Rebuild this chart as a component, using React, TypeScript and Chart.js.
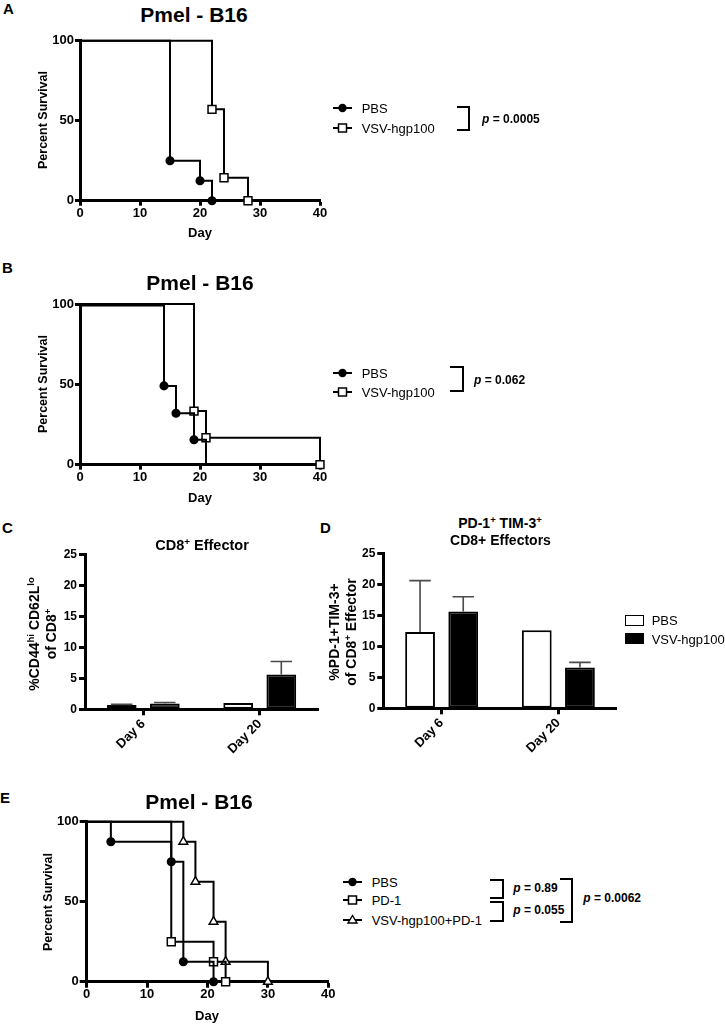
import React, { useEffect, useRef } from 'react';
import { Chart, registerables } from 'chart.js';

Chart.register(...registerables);

// ---------------- DATA ----------------
// Panel A – Kaplan–Meier (day, percent survival)
const A_PBS_DAYS = [0, 15, 20, 22];
const A_PBS_SURV = [100, 25, 12.5, 0];
const A_VSV_DAYS = [0, 22, 24, 28];
const A_VSV_SURV = [100, 57.1, 14.3, 0];

// Panel B
const B_PBS_DAYS = [0, 14, 16, 19, 21];
const B_PBS_SURV = [99, 49, 32, 15.5, 0];
const B_VSV_DAYS = [0, 19, 21, 40];
const B_VSV_SURV = [100, 33.3, 16.7, 0];

// Panel E
const E_PBS_DAYS = [0, 4, 14, 16, 21];
const E_PBS_SURV = [100, 87.5, 75, 12.5, 0];
const E_PD1_DAYS = [0, 14, 21, 23];
const E_PD1_SURV = [100, 25, 12.5, 0];
const E_COMBO_DAYS = [0, 16, 18, 21, 23, 30];
const E_COMBO_SURV = [100, 87.5, 62.5, 37.5, 12.5, 0];

// Bar panels C and D
const BAR_CATEGORIES = ['Day 6', 'Day 20'];
const C_PBS = [0.7, 1.0];
const C_PBS_ERR = [0.1, 0];
const C_VSV = [0.95, 5.6];
const C_VSV_ERR = [0.15, 2.1];
const D_PBS = [12.3, 12.6];
const D_PBS_ERR = [8.3, 0];
const D_VSV = [15.6, 6.6];
const D_VSV_ERR = [2.4, 0.8];

// Axis ranges / tick steps
const DAY_MIN = 0;
const DAY_MAX = 40;
const DAY_STEP = 10;
const SURV_MAX = 100;
const SURV_STEP = 50;
const BAR_MAX = 25;
const BAR_STEP = 5;

// ---------------- STYLE ----------------
const FONT = '"Liberation Sans", Arial, Helvetica, sans-serif';

type Box = { left: number; top: number; right: number; bottom: number };
type CanvasBox = { left: number; top: number; width: number; height: number };

function tickFont(size: number) {
  return { family: FONT, size, weight: 'bold' as const, lineHeight: 1 };
}

function axisCommon(tickLen: number) {
  return {
    grid: {
      display: true,
      drawOnChartArea: false,
      drawTicks: true,
      tickLength: tickLen,
      tickWidth: 3,
      tickColor: '#000',
      offset: false,
    },
    border: { display: true, width: 3, color: '#000' },
  };
}

function baseOptions(area: Box, cv: CanvasBox) {
  return {
    responsive: false,
    maintainAspectRatio: false,
    animation: false,
    events: [],
    layout: {
      autoPadding: false,
      padding: {
        left: 0,
        top: area.top - cv.top,
        right: cv.left + cv.width - area.right,
        bottom: 0,
      },
    },
    plugins: {
      legend: { display: false },
      tooltip: { enabled: false },
      title: { display: false },
    },
  };
}

function kmDataset(
  days: number[],
  surv: number[],
  shape: 'circle' | 'rect' | 'triangle',
  fill: string,
  hideLast = false
) {
  const r = shape === 'circle' ? 3.8 : shape === 'rect' ? 5.6 : 5;
  return {
    data: days.map((d, i) => ({ x: d, y: surv[i] })),
    borderColor: '#000',
    borderWidth: 2,
    stepped: 'before',
    fill: false,
    tension: 0,
    clip: false,
    pointStyle: shape,
    pointRadius: days.map((_, i) => (i === 0 || (hideLast && i === days.length - 1) ? 0 : r)),
    pointBackgroundColor: fill,
    pointBorderColor: '#000',
    pointBorderWidth: 1.5,
  };
}

function kmConfig(area: Box, cv: CanvasBox, datasets: any[], yTick: number, xTick: number, yPad: number, xPad: number) {
  const yW = area.left - cv.left;
  const xH = cv.top + cv.height - area.bottom;
  return {
    type: 'line',
    data: { datasets },
    options: {
      ...baseOptions(area, cv),
      scales: {
        x: {
          type: 'linear',
          min: DAY_MIN,
          max: DAY_MAX,
          afterFit: (s: any) => {
            s.height = xH;
          },
          ticks: { stepSize: DAY_STEP, font: tickFont(13), color: '#000', padding: xPad, maxRotation: 0 },
          ...axisCommon(xTick),
        },
        y: {
          type: 'linear',
          min: 0,
          max: SURV_MAX,
          afterFit: (s: any) => {
            s.width = yW;
          },
          ticks: { stepSize: SURV_STEP, font: tickFont(13), color: '#000', padding: yPad },
          ...axisCommon(yTick),
        },
      },
    },
  };
}

const errorBarPlugin = {
  id: 'errorBars',
  afterDatasetsDraw(chart: any) {
    const ctx = chart.ctx;
    const yScale = chart.scales.y;
    chart.data.datasets.forEach((ds: any, di: number) => {
      const errs: number[] | undefined = ds.errors;
      if (!errs) return;
      const meta = chart.getDatasetMeta(di);
      meta.data.forEach((bar: any, i: number) => {
        const e = errs[i];
        if (!e) return;
        const v = ds.data[i];
        const x = bar.x;
        const y0 = yScale.getPixelForValue(v);
        const y1 = yScale.getPixelForValue(v + e);
        const half = bar.width * 0.36;
        ctx.save();
        ctx.strokeStyle = '#4a4a4a';
        ctx.lineWidth = 1.6;
        ctx.beginPath();
        ctx.moveTo(x, y0);
        ctx.lineTo(x, y1);
        ctx.moveTo(x - half, y1);
        ctx.lineTo(x + half, y1);
        ctx.stroke();
        ctx.restore();
      });
    });
  },
};

function barConfig(area: Box, cv: CanvasBox, pbs: number[], pbsErr: number[], vsv: number[], vsvErr: number[]) {
  const yW = area.left - cv.left;
  const xH = cv.top + cv.height - area.bottom;
  return {
    type: 'bar',
    data: {
      labels: BAR_CATEGORIES,
      datasets: [
        {
          label: 'PBS',
          data: pbs,
          errors: pbsErr,
          backgroundColor: '#fff',
          borderColor: '#000',
          borderWidth: 2,
          borderSkipped: false,
        },
        {
          label: 'VSV-hgp100',
          data: vsv,
          errors: vsvErr,
          backgroundColor: '#000',
          borderColor: '#000',
          borderWidth: 2,
          borderSkipped: false,
        },
      ],
    },
    options: {
      ...baseOptions(area, cv),
      datasets: { bar: { barPercentage: 0.69, categoryPercentage: 0.74 } },
      scales: {
        x: {
          type: 'category',
          offset: true,
          afterFit: (s: any) => {
            s.height = xH;
          },
          ticks: {
            font: tickFont(13),
            color: '#000',
            padding: 2,
            minRotation: 45,
            maxRotation: 45,
            autoSkip: false,
          },
          ...axisCommon(6),
        },
        y: {
          type: 'linear',
          min: 0,
          max: BAR_MAX,
          afterFit: (s: any) => {
            s.width = yW;
          },
          ticks: { stepSize: BAR_STEP, font: tickFont(12), color: '#000', padding: 2 },
          ...axisCommon(6),
        },
      },
    },
    plugins: [errorBarPlugin],
  };
}

// ---------------- COMPONENTS ----------------
function ChartCanvas({ cv, make }: { cv: CanvasBox; make: () => any }) {
  const ref = useRef<HTMLCanvasElement | null>(null);
  useEffect(() => {
    if (!ref.current) return;
    const chart = new Chart(ref.current, make());
    return () => chart.destroy();
  }, []);
  return (
    <canvas
      ref={ref}
      width={cv.width}
      height={cv.height}
      style={{ position: 'absolute', left: cv.left, top: cv.top, width: cv.width, height: cv.height }}
    />
  );
}

const textBase: React.CSSProperties = {
  position: 'absolute',
  whiteSpace: 'nowrap',
  fontFamily: FONT,
  color: '#000',
  lineHeight: 1,
};

function Txt({
  x,
  y,
  size = 13,
  bold = false,
  align = 'left',
  rotate = false,
  lh = 1,
  children,
}: {
  x: number;
  y: number;
  size?: number;
  bold?: boolean;
  align?: 'left' | 'center' | 'right';
  rotate?: boolean;
  lh?: number;
  children: any;
}) {
  const tx = align === 'center' || rotate ? '-50%' : align === 'right' ? '-100%' : '0';
  return (
    <div
      style={{
        ...textBase,
        left: x,
        top: y,
        fontSize: size,
        lineHeight: lh,
        fontWeight: bold ? 'bold' : 'normal',
        textAlign: 'center',
        transform: `translate(${tx}, -50%)${rotate ? ' rotate(-90deg)' : ''}`,
      }}
    >
      {children}
    </div>
  );
}

function Sup({ children }: { children: any }) {
  return (
    <span style={{ fontSize: '0.68em', position: 'relative', top: '-0.55em', lineHeight: 0 }}>{children}</span>
  );
}

function Marker({ x, y, shape }: { x: number; y: number; shape: 'circle' | 'rect' | 'triangle' }) {
  return (
    <svg style={{ position: 'absolute', left: x, top: y - 7, overflow: 'visible' }} width={20} height={14}>
      <line x1={0} y1={7} x2={19} y2={7} stroke="#000" strokeWidth={2} />
      {shape === 'circle' && <circle cx={9.5} cy={7} r={4.2} fill="#000" />}
      {shape === 'rect' && <rect x={5.5} y={3} width={8} height={8} fill="#fff" stroke="#000" strokeWidth={1.5} />}
      {shape === 'triangle' && <polygon points="9.5,2.5 14,10 5,10" fill="#fff" stroke="#000" strokeWidth={1.4} />}
    </svg>
  );
}

function Bracket({ x1, x2, y1, y2 }: { x1: number; x2: number; y1: number; y2: number }) {
  return (
    <div
      style={{
        position: 'absolute',
        boxSizing: 'border-box',
        left: x1,
        top: y1 - 1,
        width: x2 - x1 + 1,
        height: y2 - y1 + 2,
        borderTop: '2px solid #000',
        borderRight: '2px solid #000',
        borderBottom: '2px solid #000',
      }}
    />
  );
}

function PVal({ x, y, value }: { x: number; y: number; value: string }) {
  return (
    <Txt x={x} y={y} size={12} bold>
      <i>p</i> = {value}
    </Txt>
  );
}

// chart areas (page coordinates)
const A_AREA: Box = { left: 80, top: 40.7, right: 320, bottom: 200.7 };
const A_CV: CanvasBox = { left: 0, top: 30, width: 345, height: 205 };
const B_AREA: Box = { left: 80, top: 304, right: 320, bottom: 464.6 };
const B_CV: CanvasBox = { left: 0, top: 294, width: 345, height: 205 };
const E_AREA: Box = { left: 86.7, top: 821.7, right: 328.3, bottom: 981.7 };
const E_CV: CanvasBox = { left: 0, top: 811, width: 350, height: 205 };
const C_AREA: Box = { left: 85, top: 554.3, right: 318, bottom: 709.3 };
const C_CV: CanvasBox = { left: 0, top: 544, width: 335, height: 215 };
const D_AREA: Box = { left: 383.3, top: 553.3, right: 616.7, bottom: 708.3 };
const D_CV: CanvasBox = { left: 350, top: 543, width: 280, height: 215 };

export default function App() {
  return (
    <div style={{ position: 'absolute', left: 0, top: 0, width: 725, height: 1024, background: '#fff', overflow: 'hidden' }}>
      <ChartCanvas
        cv={A_CV}
        make={() =>
          kmConfig(
            A_AREA,
            A_CV,
            [
              kmDataset(A_PBS_DAYS, A_PBS_SURV, 'circle', '#000'),
              kmDataset(A_VSV_DAYS, A_VSV_SURV, 'rect', '#fff'),
            ],
            5,
            5,
            1,
            1
          )
        }
      />
      <ChartCanvas
        cv={B_CV}
        make={() =>
          kmConfig(
            B_AREA,
            B_CV,
            [
              kmDataset(B_PBS_DAYS, B_PBS_SURV, 'circle', '#000', true),
              kmDataset(B_VSV_DAYS, B_VSV_SURV, 'rect', '#fff'),
            ],
            5,
            5,
            1,
            1
          )
        }
      />
      <ChartCanvas cv={C_CV} make={() => barConfig(C_AREA, C_CV, C_PBS, C_PBS_ERR, C_VSV, C_VSV_ERR)} />
      <ChartCanvas cv={D_CV} make={() => barConfig(D_AREA, D_CV, D_PBS, D_PBS_ERR, D_VSV, D_VSV_ERR)} />
      <ChartCanvas
        cv={E_CV}
        make={() =>
          kmConfig(
            E_AREA,
            E_CV,
            [
              kmDataset(E_PBS_DAYS, E_PBS_SURV, 'circle', '#000'),
              kmDataset(E_PD1_DAYS, E_PD1_SURV, 'rect', '#fff'),
              kmDataset(E_COMBO_DAYS, E_COMBO_SURV, 'triangle', '#fff'),
            ],
            7,
            6,
            1,
            0
          )
        }
      />

      {/* Panel letters */}
      <Txt x={3} y={8} size={15} bold>A</Txt>
      <Txt x={2} y={267} size={15} bold>B</Txt>
      <Txt x={2} y={527} size={15} bold>C</Txt>
      <Txt x={320} y={527} size={15} bold>D</Txt>
      <Txt x={0} y={797} size={15} bold>E</Txt>

      {/* Panel A text */}
      <Txt x={194} y={14} size={21} bold align="center">Pmel - B16</Txt>
      <Txt x={43.3} y={120} size={12.5} bold rotate>Percent Survival</Txt>
      <Txt x={200} y={232} size={13} bold align="center">Day</Txt>
      <Marker x={333} y={108.3} shape="circle" />
      <Txt x={361.7} y={108.3} size={13}>PBS</Txt>
      <Marker x={333} y={128.3} shape="rect" />
      <Txt x={361.7} y={128.3} size={13}>VSV-hgp100</Txt>
      <Bracket x1={457} x2={469} y1={107} y2={130} />
      <PVal x={482} y={119} value="0.0005" />

      {/* Panel B text */}
      <Txt x={200} y={281.7} size={21} bold align="center">Pmel - B16</Txt>
      <Txt x={43.3} y={384} size={12.5} bold rotate>Percent Survival</Txt>
      <Txt x={200} y={497} size={13} bold align="center">Day</Txt>
      <Marker x={333} y={373.3} shape="circle" />
      <Txt x={361.7} y={373.3} size={13}>PBS</Txt>
      <Marker x={333} y={391.7} shape="rect" />
      <Txt x={361.7} y={391.7} size={13}>VSV-hgp100</Txt>
      <Bracket x1={450} x2={463.3} y1={367.3} y2={391} />
      <PVal x={474} y={380} value="0.062" />

      {/* Panel C text */}
      <Txt x={202} y={545} size={14.5} bold align="center">
        CD8<Sup>+</Sup> Effector
      </Txt>
      <Txt x={43} y={634} size={14} bold rotate lh={1.2}>
        %CD44<Sup>hi</Sup> CD62L<Sup>lo</Sup>
        <br />
        of CD8<Sup>+</Sup>
      </Txt>

      {/* Panel D text */}
      <Txt x={500} y={523} size={14} bold align="center">
        PD-1<Sup>+</Sup> TIM-3<Sup>+</Sup>
      </Txt>
      <Txt x={500.5} y={540} size={14} bold align="center">CD8+ Effectors</Txt>
      <Txt x={342.5} y={632} size={14} bold rotate lh={1.2}>
        %PD-1+TIM-3+
        <br />
        of CD8<Sup>+</Sup> Effector
      </Txt>
      <div
        style={{ position: 'absolute', boxSizing: 'border-box', left: 625, top: 614.5, width: 18.5, height: 11, border: '1.5px solid #000', background: '#fff' }}
      />
      <Txt x={651.7} y={620} size={13}>PBS</Txt>
      <div style={{ position: 'absolute', left: 625, top: 633, width: 18.5, height: 11, background: '#000' }} />
      <Txt x={651.7} y={638.5} size={13}>VSV-hgp100</Txt>

      {/* Panel E text */}
      <Txt x={199} y={800.7} size={21} bold align="center">Pmel - B16</Txt>
      <Txt x={48.3} y={901.7} size={12.5} bold rotate>Percent Survival</Txt>
      <Txt x={207} y={1015} size={13} bold align="center">Day</Txt>
      <Marker x={343} y={881.7} shape="circle" />
      <Txt x={371.7} y={881.7} size={13}>PBS</Txt>
      <Marker x={343} y={900} shape="rect" />
      <Txt x={371.7} y={900} size={13}>PD-1</Txt>
      <Marker x={343} y={920} shape="triangle" />
      <Txt x={371.7} y={920} size={13}>VSV-hgp100+PD-1</Txt>
      <Bracket x1={490} x2={502.7} y1={880} y2={898.3} />
      <Bracket x1={490} x2={502.7} y1={902.3} y2={921} />
      <PVal x={513.3} y={888.3} value="0.89" />
      <PVal x={513.3} y={910} value="0.055" />
      <Bracket x1={560} x2={572.3} y1={879} y2={921.7} />
      <PVal x={583.3} y={898.3} value="0.0062" />
    </div>
  );
}
